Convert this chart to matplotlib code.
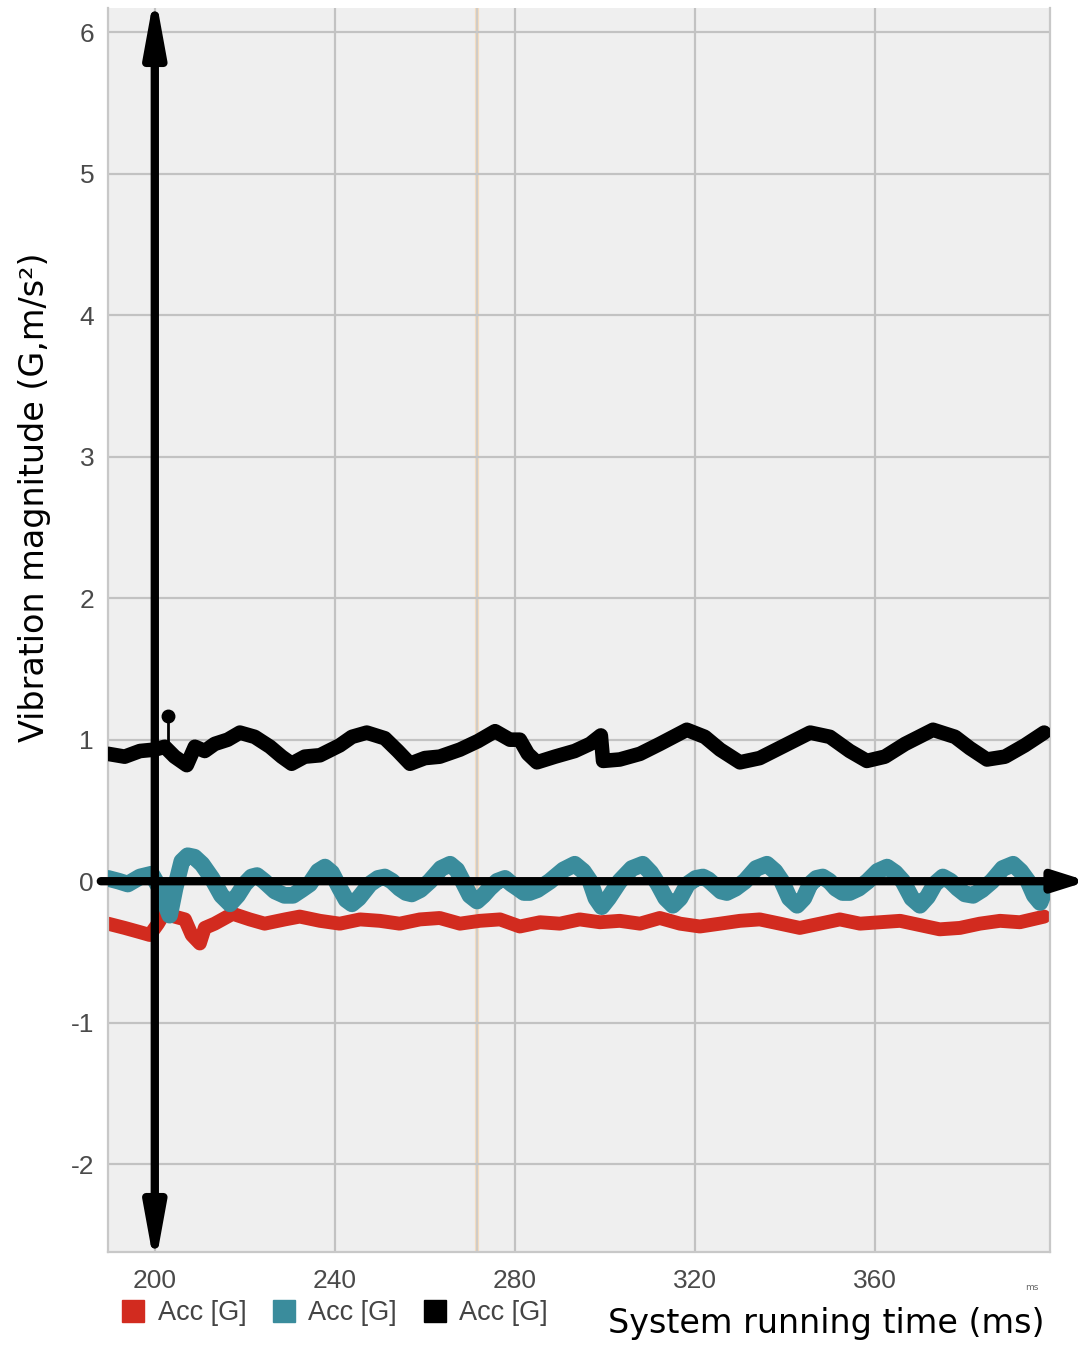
import matplotlib
matplotlib.use("Agg")
import matplotlib.pyplot as plt
from matplotlib.lines import Line2D

plt.rcParams['axes.unicode_minus'] = False

# black series (ms, G)
t_black = [189.6, 193.3, 196.7, 200.0, 202.2, 204.4, 207.1, 208.9, 211.1, 213.3,
           216.2, 218.9, 222.2, 225.6, 228.2, 230.4, 233.3, 236.7, 241.1, 243.8,
           247.1, 251.1, 254.0, 256.7, 260.0, 263.3, 267.8, 271.8, 275.6, 278.9,
           281.1, 282.9, 284.9, 288.9, 293.3, 296.7, 299.1, 299.6, 303.3, 307.8,
           312.2, 318.2, 322.2, 325.6, 330.0, 334.4, 340.0, 345.6, 350.0, 354.4,
           358.2, 362.2, 366.7, 372.9, 377.8, 381.1, 384.9, 388.9, 393.3, 397.6]
v_black = [0.90, 0.88, 0.92, 0.93, 0.95, 0.88, 0.82, 0.95, 0.92, 0.97,
           1.00, 1.05, 1.02, 0.95, 0.88, 0.83, 0.88, 0.89, 0.96, 1.02,
           1.05, 1.01, 0.92, 0.83, 0.87, 0.88, 0.93, 0.99, 1.06, 1.00,
           1.00, 0.90, 0.84, 0.88, 0.92, 0.97, 1.03, 0.85, 0.86, 0.90,
           0.97, 1.07, 1.02, 0.93, 0.84, 0.87, 0.96, 1.05, 1.02, 0.92,
           0.85, 0.88, 0.97, 1.07, 1.02, 0.94, 0.86, 0.88, 0.96, 1.05]
spike_t = 203.0
spike_base = 0.95
spike_v = 1.17

# teal series
t_teal = [189.6, 192.0, 194.0, 196.7, 199.3, 201.1, 202.2, 203.3, 204.5, 206.0,
          207.3, 208.8, 210.5, 212.7, 214.8, 216.7, 218.4, 220.0, 221.5, 222.7,
          224.3, 226.7, 228.8, 230.7, 232.6, 234.4, 236.3, 237.8, 239.3, 241.1,
          242.5, 243.8, 245.3, 247.8, 249.6, 251.1, 252.7, 254.4, 255.8, 257.1,
          259.0, 261.1, 263.6, 265.6, 267.1, 268.4, 270.0, 271.6, 273.0, 274.4,
          276.1, 277.8, 279.3, 280.7, 282.0, 283.3, 285.0, 287.8, 290.8, 293.3,
          295.2, 296.7, 298.0, 299.3, 300.8, 303.3, 306.0, 308.4, 310.2, 311.8,
          313.5, 315.1, 316.7, 318.4, 320.2, 321.8, 323.0, 324.4, 325.8, 327.1,
          329.0, 331.1, 333.6, 336.0, 337.8, 339.3, 341.0, 342.7, 344.2, 345.6,
          347.0, 348.4, 349.9, 351.3, 352.8, 354.4, 356.4, 358.4, 360.6, 362.7,
          364.5, 366.2, 368.2, 370.0, 371.7, 373.3, 375.1, 376.8, 378.4, 380.0,
          381.8, 383.8, 386.0, 388.4, 390.7, 392.4, 394.0, 395.4, 396.7, 397.8]
v_teal = [0.02, 0.00, -0.02, 0.03, 0.05, -0.05, -0.15, -0.24, -0.05, 0.14,
          0.18, 0.17, 0.12, 0.02, -0.10, -0.16, -0.10, -0.02, 0.03, 0.04,
          0.00, -0.07, -0.10, -0.10, -0.06, -0.02, 0.07, 0.10, 0.06, -0.05,
          -0.13, -0.16, -0.12, -0.02, 0.02, 0.03, 0.00, -0.05, -0.08, -0.09,
          -0.06, 0.00, 0.09, 0.12, 0.08, 0.00, -0.10, -0.14, -0.10, -0.05,
          0.00, 0.02, -0.02, -0.05, -0.08, -0.08, -0.06, 0.00, 0.08, 0.12,
          0.07, 0.00, -0.12, -0.18, -0.12, 0.00, 0.09, 0.12, 0.06, -0.02,
          -0.12, -0.17, -0.12, -0.02, 0.02, 0.03, 0.01, -0.03, -0.07, -0.08,
          -0.05, 0.00, 0.09, 0.12, 0.07, 0.00, -0.12, -0.17, -0.12, -0.02,
          0.02, 0.03, 0.00, -0.05, -0.08, -0.08, -0.05, 0.00, 0.07, 0.10,
          0.06, 0.00, -0.12, -0.17, -0.11, -0.02, 0.03, 0.00, -0.05, -0.09,
          -0.10, -0.06, 0.00, 0.09, 0.12, 0.07, 0.00, -0.10, -0.15, -0.06]

# red series
t_red = [189.6, 193.3, 196.7, 198.9, 200.7, 202.2, 204.4, 206.7, 208.2, 210.0,
         211.1, 213.3, 217.3, 221.1, 224.4, 228.9, 232.2, 236.7, 241.1, 245.6,
         250.0, 254.4, 258.9, 263.3, 267.8, 272.2, 276.7, 281.1, 285.6, 290.0,
         294.4, 298.9, 303.3, 307.8, 312.2, 316.7, 321.1, 325.6, 330.0, 334.4,
         338.9, 343.3, 347.8, 352.2, 356.7, 361.1, 365.6, 370.0, 374.4, 378.9,
         383.3, 387.8, 392.2, 397.6]
v_red = [-0.30, -0.33, -0.36, -0.38, -0.30, -0.22, -0.25, -0.27, -0.38, -0.44,
         -0.33, -0.30, -0.23, -0.27, -0.30, -0.27, -0.25, -0.28, -0.30, -0.27,
         -0.28, -0.30, -0.27, -0.26, -0.30, -0.28, -0.27, -0.32, -0.29, -0.30,
         -0.27, -0.29, -0.28, -0.30, -0.26, -0.30, -0.32, -0.30, -0.28, -0.27,
         -0.30, -0.33, -0.30, -0.27, -0.30, -0.29, -0.28, -0.31, -0.34, -0.33,
         -0.30, -0.28, -0.29, -0.25]

x_ticks = [200, 240, 280, 320, 360]
y_ticks = [-2, -1, 0, 1, 2, 3, 4, 5, 6]
legend_labels = ['Acc [G]', 'Acc [G]', 'Acc [G]']

red = '#d22b1f'
teal = '#3a8c9c'
sans = ['Liberation Sans', 'DejaVu Sans']

fig = plt.figure(figsize=(10.78, 13.53), dpi=100)
ax = fig.add_axes([108/1078, 1-1252/1353, (1050-108)/1078, (1252-8)/1353])
ax.set_facecolor('#efefef')
ax.set_xlim(189.6, 398.9)
ax.set_ylim(-2.62, 6.17)

ax.set_xticks(x_ticks)
ax.set_yticks(y_ticks)
ax.tick_params(length=0, labelsize=19, labelcolor='#4a4a4a')
ax.tick_params(axis='x', pad=12)
ax.tick_params(axis='y', pad=10)
for lab in ax.get_xticklabels() + ax.get_yticklabels():
    lab.set_family(sans)
ax.grid(True, color='#c2c2c2', linewidth=1.6)
ax.set_axisbelow(True)
for s in ['left', 'bottom', 'right']:
    ax.spines[s].set_color('#c8c8c8')
    ax.spines[s].set_linewidth(1.6)
ax.spines['top'].set_visible(False)

# faint cursor line
ax.axvline(271.6, color='#f3dcc0', linewidth=3, zorder=0.5)
ax.axvline(271.6, color='#c9c9c9', linewidth=1.2, zorder=0.6)

ax.plot(t_red, v_red, color=red, linewidth=10, solid_capstyle='round',
        solid_joinstyle='round', zorder=2)
ax.plot(t_teal, v_teal, color=teal, linewidth=12, solid_capstyle='round',
        solid_joinstyle='round', zorder=3)
ax.plot(t_black, v_black, color='black', linewidth=10.5, solid_capstyle='round',
        solid_joinstyle='round', zorder=4)
ax.plot([spike_t, spike_t], [spike_base, spike_v], color='black', linewidth=2, zorder=4)
ax.plot([spike_t], [spike_v], 'o', color='black', markersize=9, zorder=4)

# axis arrows
ax.annotate('', xy=(200, 6.28), xytext=(200, -2.73),
            arrowprops=dict(arrowstyle='<|-|>,head_length=3.4,head_width=0.62',
                            color='black', lw=6, shrinkA=0, shrinkB=0),
            annotation_clip=False, zorder=6)
ax.annotate('', xy=(407.3, 0), xytext=(188.0, 0),
            arrowprops=dict(arrowstyle='-|>,head_length=1.9,head_width=0.6',
                            color='black', lw=6, shrinkA=0, shrinkB=0),
            annotation_clip=False, zorder=6)

fig.text(35/1078, 1-497/1353, 'Vibration magnitude (G,m/s²)', rotation=90,
         ha='center', va='center', fontsize=24, color='black')
fig.text(1045/1078, 1-1323/1353, 'System running time (ms)', ha='right',
         va='center', fontsize=24, color='black')
fig.text(1032/1078, 1-1288/1353, 'ms', ha='center', va='center', fontsize=6.5,
         color='#666666')

handles = [Line2D([], [], linestyle='none', marker='s', markersize=16, color=c)
           for c in [red, teal, 'black']]
fig.legend(handles, legend_labels, loc='center left',
           bbox_to_anchor=(98/1078, 1-1313/1353), ncol=3, frameon=False,
           handlelength=0.8, handletextpad=0.5, columnspacing=1.0,
           prop={'family': sans, 'size': 19.5}, labelcolor='#444444')

fig.savefig('out.png', dpi=100)
